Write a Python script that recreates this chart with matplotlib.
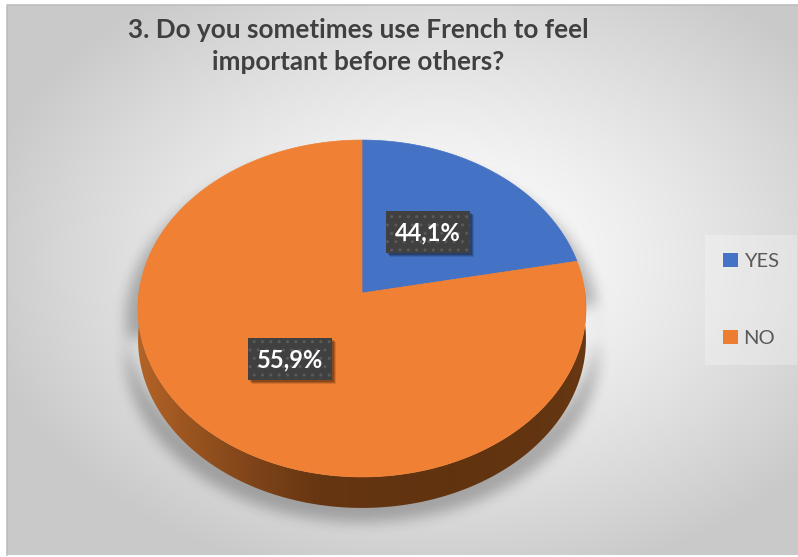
import numpy as np
import matplotlib
matplotlib.use('Agg')
import matplotlib.pyplot as plt
from matplotlib.patches import Polygon, Rectangle, Patch
from matplotlib.path import Path

# ---------------- data ----------------
categories = ['YES', 'NO']
slice_values = [21.9, 78.1]          # slice sizes as drawn in the picture
label_texts = ['44,1%', '55,9%']     # data-label texts shown on the chart
colors = ['#4472C4', '#ED7D31']
title = '3. Do you sometimes use French to feel\nimportant before others?'

W, H = 798, 557
fig = plt.figure(figsize=(W / 100, H / 100), dpi=100, facecolor='white')
ax = fig.add_axes([0, 0, 1, 1])
ax.set_facecolor('white')

# ---------------- background (chart area) ----------------
X0, Y0, X1, Y1 = 7, 5, 798, 555
yy, xx = np.mgrid[0:H, 0:W]
d = np.sqrt(((xx - 440) / 470) ** 2 + ((yy - 260) / 330) ** 2)
d = np.clip(d, 0, 1)
g = 1.0 - 0.21 * d ** 1.3
bgimg = np.dstack([g, g, g])[Y0:Y1, X0:X1]
ax.imshow(bgimg, extent=(X0, X1, Y1, Y0), zorder=0, interpolation='bilinear')
ax.plot([X0, X0, X1], [Y1, Y0, Y0], color='#bdbdbd', lw=1.2, zorder=8)

# ---------------- pie geometry (3D perspective) ----------------
cx, cy, rx, ry, k, depth = 362, 293, 223, 167, 0.092, 31


def proj(theta, sx=1.0):
    s, c = np.sin(theta), np.cos(theta)
    return cx + sx * rx * c / (1 + k * s), cy - ry * s / (1 + k * s)


def blur(a, r):
    for _ in range(3):
        for axis in (0, 1):
            pad = [(r + 1, r) if i == axis else (0, 0) for i in range(2)]
            c = np.cumsum(np.pad(a, pad, mode='edge'), axis=axis)
            if axis == 0:
                a = (c[2 * r + 1:, :] - c[:-2 * r - 1, :]) / (2 * r + 1)
            else:
                a = (c[:, 2 * r + 1:] - c[:, :-2 * r - 1]) / (2 * r + 1)
    return a


# shadow: silhouette widened and extruded downwards, then blurred
th_all = np.linspace(0, 2 * np.pi, 400)
tx, ty = proj(th_all, 1.055)
bx, by = proj(np.linspace(np.pi, 2 * np.pi, 200), 1.055)
shx = np.concatenate([tx, bx[::-1]])
shy = np.concatenate([ty + 12, by[::-1] + 45])
pts = np.column_stack([xx.ravel() + 0.5, yy.ravel() + 0.5])
mask = Path(np.column_stack([shx, shy])).contains_points(pts).reshape(H, W).astype(float)
mask = blur(mask, 6)
shadow = np.zeros((H, W, 4))
shadow[..., 3] = 0.26 * mask
ax.imshow(shadow, extent=(0, W, H, 0), zorder=1, interpolation='bilinear')

# side of the pie (front)
th_side = np.linspace(np.pi * 0.99, 2 * np.pi * 1.005, 300)
sx, sy = proj(th_side)
side_poly = Polygon(np.column_stack([np.concatenate([sx, sx[::-1]]),
                                     np.concatenate([sy, sy[::-1] + depth])]),
                    closed=True, facecolor='none', edgecolor='none', zorder=2)
ax.add_patch(side_poly)
xs = np.array([130, 180, 250, 320, 450, 560, 600])
rs = np.array([0.72, 0.62, 0.50, 0.40, 0.38, 0.39, 0.42])
gs = np.array([0.40, 0.34, 0.27, 0.21, 0.20, 0.21, 0.23])
bs = np.array([0.16, 0.13, 0.10, 0.07, 0.06, 0.07, 0.08])
xline = np.arange(W)
grad = np.dstack([np.interp(xline, xs, rs)[None, :].repeat(2, 0),
                  np.interp(xline, xs, gs)[None, :].repeat(2, 0),
                  np.interp(xline, xs, bs)[None, :].repeat(2, 0)])
im = ax.imshow(grad, extent=(0, W, H, 0), zorder=2, interpolation='bilinear', aspect='auto')
im.set_clip_path(side_poly)

# top surface slices
fracs = np.array(slice_values) / np.sum(slice_values)
start = np.pi / 2
top_colors = ['#4472C4', '#F08033']
for f, col in zip(fracs, top_colors):
    end = start - 2 * np.pi * f
    th = np.linspace(start, end, 300)
    px, py = proj(th)
    poly = np.column_stack([np.concatenate([[cx], px]), np.concatenate([[cy], py])])
    ax.add_patch(Polygon(poly, closed=True, facecolor=col, edgecolor=col, linewidth=0.5, zorder=3))
    start = end

# ---------------- data labels ----------------
label_pos = [(428, 232), (290, 359)]
bw, bh = 84, 42
for (lx, ly), txt in zip(label_pos, label_texts):
    for off, a in [(4, 0.12), (3, 0.18), (2, 0.2)]:
        ax.add_patch(Rectangle((lx - bw / 2 + off, ly - bh / 2 + off), bw, bh,
                               facecolor='black', alpha=a, edgecolor='none', zorder=4))
    ax.add_patch(Rectangle((lx - bw / 2, ly - bh / 2), bw, bh, facecolor='#404040',
                           edgecolor='#5a5a5a', linewidth=0, hatch='..', zorder=5))
    ax.text(lx, ly + 1, txt, ha='center', va='center', color='white', fontsize=17,
            fontweight='bold', family='Lato', zorder=6)

# ---------------- title ----------------
ax.text(358, 46, title, ha='center', va='center', fontsize=18.8, fontweight='bold',
        family='Lato', color='#404040', linespacing=1.45, zorder=6)

# ---------------- legend ----------------
handles = [Patch(facecolor=c, edgecolor='none') for c in colors]
leg = ax.legend(handles, categories, loc='center', bbox_to_anchor=(751 / W, 1 - 300 / H),
                bbox_transform=fig.transFigure, frameon=True, fancybox=False,
                facecolor='white', edgecolor='none', framealpha=0.25,
                prop={'family': 'Lato', 'size': 14.5}, labelcolor='#595959',
                handlelength=0.7, handleheight=0.7, handletextpad=0.3,
                labelspacing=2.95, borderpad=0.9)
leg.set_zorder(7)

ax.set_xlim(0, W)
ax.set_ylim(H, 0)
ax.set_aspect('auto')
ax.axis('off')
fig.savefig('out.png', dpi=100, facecolor='white')
